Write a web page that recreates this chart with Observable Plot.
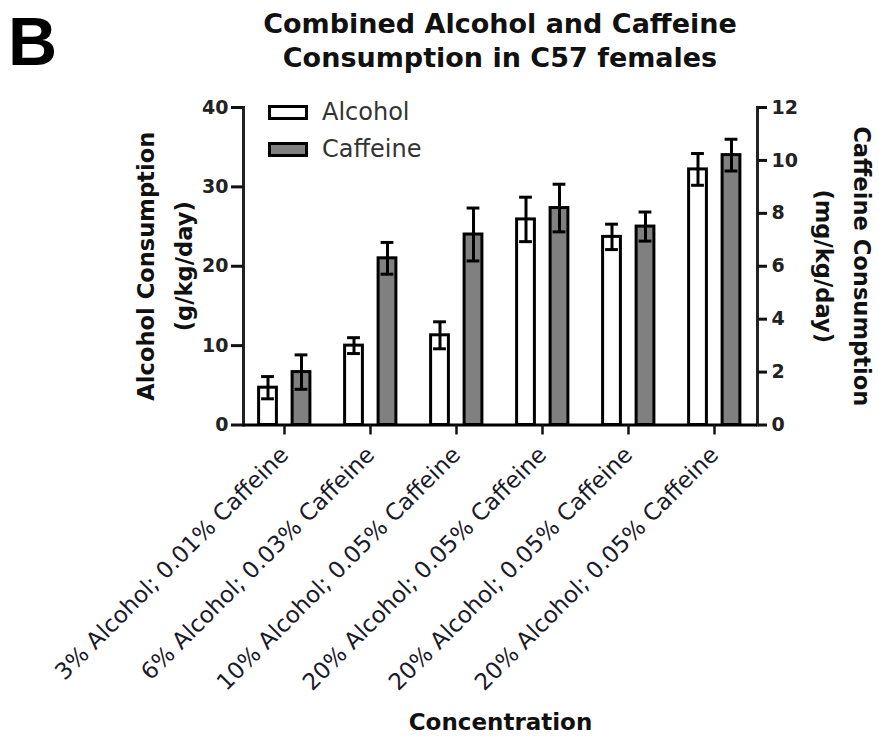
<!DOCTYPE html>
<html>
<head>
<meta charset="utf-8">
<script src="https://cdn.jsdelivr.net/npm/d3@7"></script>
<script src="https://cdn.jsdelivr.net/npm/@observablehq/plot@0.6"></script>
<style>
  html, body { margin: 0; padding: 0; background: #fff; }
  #fig { position: relative; width: 879px; height: 736px; overflow: hidden; font-family: "DejaVu Sans", sans-serif; color: #111; }
  #header { position: relative; height: 90px; }
  #panel { position: absolute; left: 8px; top: 2px; font: bold 68px "Liberation Sans", Arial, sans-serif; line-height: normal; color: #000; }
  #title { position: absolute; left: 200px; width: 600px; top: 7px; text-align: center; font: bold 27px/34px "DejaVu Sans", sans-serif; color: #111; }
  .legend-swatch { position: absolute; box-sizing: border-box; width: 40px; height: 15px; border: 3px solid #000; }
  .legend-text { position: absolute; font: 24px/24px "DejaVu Sans", sans-serif; color: #333; white-space: nowrap; }
</style>
</head>
<body>
<div id="fig">
  <div id="header">
    <div id="panel">B</div>
    <div id="title">Combined Alcohol and Caffeine<br>Consumption in C57 females</div>
  </div>
  <div id="chart"></div>
</div>
<script>
// Treatment groups (duplicate labels are distinct groups, so bars are keyed by index)
const categories = [
  "3% Alcohol; 0.01% Caffeine",
  "6% Alcohol; 0.03% Caffeine",
  "10% Alcohol; 0.05% Caffeine",
  "20% Alcohol; 0.05% Caffeine",
  "20% Alcohol; 0.05% Caffeine",
  "20% Alcohol; 0.05% Caffeine"
];

// Alcohol consumption, g/kg/day (mean and SEM)
const alcoholMean = [4.7, 10.0, 11.3, 25.9, 23.7, 32.2];
const alcoholSem  = [1.4, 1.0, 1.7, 2.8, 1.6, 2.0];

// Caffeine consumption, mg/kg/day (mean and SEM)
const caffeineMean = [2.0, 6.3, 7.2, 8.2, 7.5, 10.2];
const caffeineSem  = [0.65, 0.6, 1.0, 0.9, 0.55, 0.6];

const seriesNames = ["Alcohol", "Caffeine"];
const seriesFills = ["#ffffff", "#808080"];

const leftTicks = [0, 10, 20, 30, 40];
const rightTicks = [0, 2, 4, 6, 8, 10, 12];

// Caffeine is plotted against the right axis: 0–12 mg/kg/day spans the same height as 0–40 g/kg/day
const leftMax = 40, rightMax = 12;
const toLeft = v => v * leftMax / rightMax;

const rows = categories.map((label, i) => ({
  i, label,
  alc: alcoholMean[i], alcSem: alcoholSem[i],
  caf: toLeft(caffeineMean[i]), cafSem: toLeft(caffeineSem[i])
}));

// Geometry within each category band
const bandStart = 239, bandStep = 86.2;
const half = bandStep / 2;

const chart = Plot.plot({
  width: 879,
  height: 646,
  marginTop: 17,
  marginBottom: 311.5,
  marginLeft: 243,
  marginRight: 122,
  style: { fontFamily: "DejaVu Sans, sans-serif", color: "#111", background: "transparent", overflow: "visible" },
  x: { type: "band", domain: d3.range(categories.length), range: [bandStart, bandStart + bandStep * categories.length], padding: 0 },
  y: { domain: [0, leftMax] },
  marks: [
    // bars
    Plot.barY(rows, { x: "i", y: "alc", fill: seriesFills[0], stroke: "#000", strokeWidth: 3,
      insetLeft: half - 24.5, insetRight: bandStep - (half - 6.5) }),
    Plot.barY(rows, { x: "i", y: "caf", fill: seriesFills[1], stroke: "#000", strokeWidth: 3,
      insetLeft: half + 9, insetRight: bandStep - (half + 27) }),

    // error bars (mean ± SEM) with caps
    Plot.ruleX(rows, { x: "i", y1: d => d.alc - d.alcSem, y2: d => d.alc + d.alcSem, dx: -15.5, stroke: "#000", strokeWidth: 3 }),
    Plot.tickY(rows, { x: "i", y: d => d.alc + d.alcSem, insetLeft: half - 22, insetRight: bandStep - (half - 9), stroke: "#000", strokeWidth: 3 }),
    Plot.tickY(rows, { x: "i", y: d => d.alc - d.alcSem, insetLeft: half - 22, insetRight: bandStep - (half - 9), stroke: "#000", strokeWidth: 3 }),
    Plot.ruleX(rows, { x: "i", y1: d => d.caf - d.cafSem, y2: d => d.caf + d.cafSem, dx: 18, stroke: "#000", strokeWidth: 3 }),
    Plot.tickY(rows, { x: "i", y: d => d.caf + d.cafSem, insetLeft: half + 11.5, insetRight: bandStep - (half + 24.5), stroke: "#000", strokeWidth: 3 }),
    Plot.tickY(rows, { x: "i", y: d => d.caf - d.cafSem, insetLeft: half + 11.5, insetRight: bandStep - (half + 24.5), stroke: "#000", strokeWidth: 3 }),

    // axis lines
    Plot.frame({ anchor: "left", stroke: "#222", strokeWidth: 3 }),
    Plot.frame({ anchor: "right", stroke: "#222", strokeWidth: 3 }),
    Plot.ruleY([0], { stroke: "#000", strokeWidth: 3 }),

    // left axis: alcohol
    Plot.axisY({ anchor: "left", ticks: leftTicks, tickSize: 12, tickPadding: 3, strokeWidth: 3,
      fontSize: 19, fontWeight: "bold", fill: "#222", label: null }),
    // right axis: caffeine, ticks placed in left-axis units
    Plot.axisY({ anchor: "right", ticks: rightTicks.map(toLeft), tickFormat: (d, i) => String(rightTicks[i]),
      tickSize: 9, tickPadding: 5, strokeWidth: 3, fontSize: 19, fontWeight: "bold", fill: "#222", label: null }),
    // category axis
    Plot.axisX({ tickFormat: i => categories[i], tickRotate: -45, tickSize: 10, tickPadding: 16, dx: 1,
      strokeWidth: 2.5, fontSize: 23, fill: "#1a1a2a", label: null }),

    // axis titles
    Plot.text(["Alcohol Consumption\n(g/kg/day)"], { text: d => d, frameAnchor: "left", rotate: -90, dx: -83,
      textAnchor: "middle", lineAnchor: "middle", lineHeight: 1.7, fontSize: 22.6, fontWeight: "bold", fill: "#111" }),
    Plot.text(["Caffeine Consumption\n(mg/kg/day)"], { text: d => d, frameAnchor: "right", rotate: 90, dx: 90,
      textAnchor: "middle", lineAnchor: "middle", lineHeight: 1.7, fontSize: 22.6, fontWeight: "bold", fill: "#111" }),
    Plot.text(["Concentration"], { text: d => d, frameAnchor: "bottom", dy: 298,
      textAnchor: "middle", lineAnchor: "middle", fontSize: 23, fontWeight: "bold", fill: "#111" })
  ]
});
document.getElementById("chart").appendChild(chart);

// Legend
const fig = document.getElementById("fig");
seriesNames.forEach((name, k) => {
  const sw = document.createElement("div");
  sw.className = "legend-swatch";
  sw.style.left = "268px";
  sw.style.top = (105 + 37 * k) + "px";
  sw.style.background = seriesFills[k];
  fig.appendChild(sw);
  const tx = document.createElement("div");
  tx.className = "legend-text";
  tx.style.left = "322px";
  tx.style.top = (100 + 37 * k) + "px";
  tx.textContent = name;
  fig.appendChild(tx);
});
</script>
</body>
</html>
